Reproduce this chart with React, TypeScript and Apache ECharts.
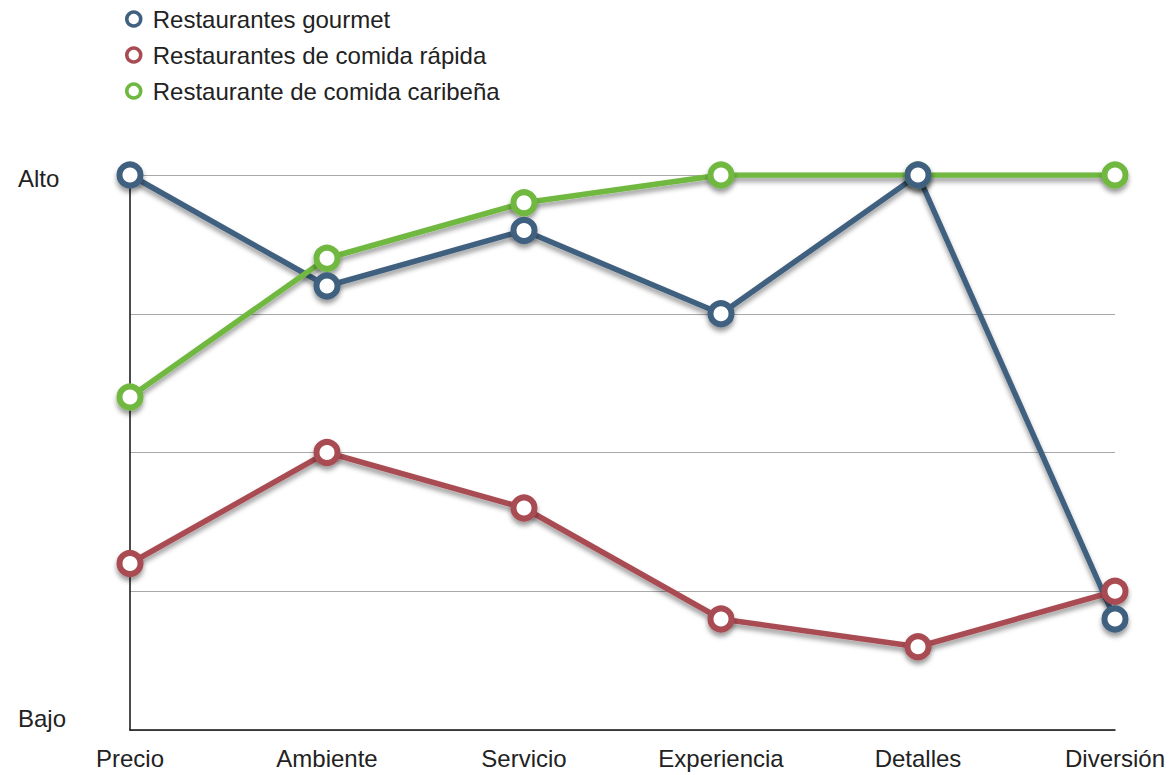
import React, { useEffect, useRef } from "react";
import * as echarts from "echarts";

// Criteria compared across restaurant types
const categories = ["Precio", "Ambiente", "Servicio", "Experiencia", "Detalles", "Diversión"];

// Ratings on a 0 (Bajo) to 4 (Alto) scale
const gourmet = [4.0, 3.2, 3.6, 3.0, 4.0, 0.8];
const comidaRapida = [1.2, 2.0, 1.6, 0.8, 0.6, 1.0];
const caribena = [2.4, 3.4, 3.8, 4.0, 4.0, 4.0];

const seriesNames = [
  "Restaurantes gourmet",
  "Restaurantes de comida rápida",
  "Restaurante de comida caribeña",
];
const seriesColors = ["#41607f", "#a94b52", "#6fb83f"];

// Y axis: only the extremes are labelled
const yTickLabels: Record<number, string> = { 0: "Bajo", 4: "Alto" };

const FONT = "'Liberation Sans', Arial, Helvetica, sans-serif";

const shadow = {
  shadowColor: "rgba(0,0,0,0.4)",
  shadowBlur: 5,
  shadowOffsetY: 4,
};

export default function App() {
  const ref = useRef<HTMLDivElement>(null);

  useEffect(() => {
    if (!ref.current) return;
    const chart = echarts.init(ref.current, undefined, { renderer: "svg" });
    const data = [gourmet, comidaRapida, caribena];

    // Lines first, so every marker sits above every line
    const lineSeries = data.map((values, i) => ({
      name: seriesNames[i],
      type: "line",
      data: values,
      showSymbol: false,
      symbol: "none",
      color: seriesColors[i],
      z: 2,
      lineStyle: { width: 5.5, color: seriesColors[i], ...shadow },
      emphasis: { disabled: true },
    }));

    // Hollow markers; gourmet drawn last so it stays on top
    const markerOrder = [2, 1, 0];
    const markerSeries = markerOrder.map((i) => ({
      name: seriesNames[i] + " ",
      type: "line",
      data: data[i],
      symbol: "circle",
      symbolSize: 21,
      z: 3,
      lineStyle: { width: 0, opacity: 0 },
      itemStyle: {
        color: "#ffffff",
        borderColor: seriesColors[i],
        borderWidth: 6,
        ...shadow,
      },
      emphasis: { disabled: true },
    }));

    chart.setOption({
      animation: false,
      backgroundColor: "#ffffff",
      legend: {
        orient: "vertical",
        left: 120,
        top: 2,
        itemWidth: 14,
        itemHeight: 14,
        itemGap: 12,
        icon: "circle",
        textStyle: {
          fontFamily: FONT,
          fontSize: 24,
          color: "#222222",
          padding: [0, 0, 0, 7],
        },
        data: seriesNames.map((name, i) => ({
          name,
          itemStyle: {
            color: "#ffffff",
            borderColor: seriesColors[i],
            borderWidth: 3.5,
          },
        })),
      },
      grid: { left: 130, right: 54, top: 175, bottom: 45, containLabel: false },
      xAxis: {
        type: "category",
        data: categories,
        boundaryGap: false,
        axisLine: { show: true, lineStyle: { color: "#111111", width: 1.5 } },
        axisTick: { show: false },
        axisLabel: {
          fontFamily: FONT,
          fontSize: 24,
          color: "#222222",
          margin: 16,
          interval: 0,
        },
        splitLine: { show: false },
      },
      yAxis: {
        type: "value",
        min: 0,
        max: 4,
        interval: 1,
        axisLine: { show: true, lineStyle: { color: "#111111", width: 1.5 } },
        axisTick: { show: false },
        axisLabel: {
          align: "left",
          margin: 112,
          fontFamily: FONT,
          fontSize: 24,
          color: "#222222",
          formatter: (v: number) => {
            const t = yTickLabels[v];
            if (!t) return "";
            return v === 0 ? `{lo|${t}}` : `{hi|${t}}`;
          },
          rich: {
            lo: {
              fontFamily: FONT,
              fontSize: 24,
              color: "#222222",
              padding: [0, 0, 24, 0],
            },
            hi: {
              fontFamily: FONT,
              fontSize: 24,
              color: "#222222",
              padding: [6, 0, 0, 0],
            },
          },
        },
        splitLine: { show: true, lineStyle: { color: "#a8a8a8", width: 1 } },
      },
      series: [...lineSeries, ...markerSeries],
    });

    return () => chart.dispose();
  }, []);

  return (
    <div
      ref={ref}
      style={{ position: "fixed", left: 0, top: 0, width: 1169, height: 775 }}
    />
  );
}
